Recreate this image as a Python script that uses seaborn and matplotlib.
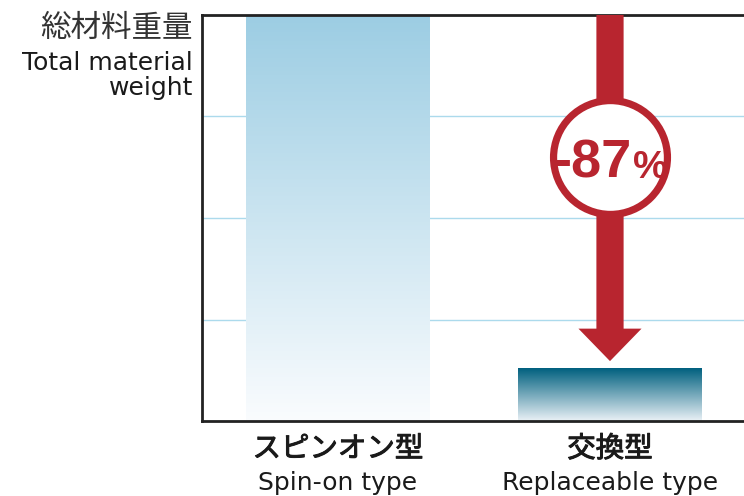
import numpy as np
import pandas as pd
import matplotlib
matplotlib.use("Agg")
import matplotlib.pyplot as plt
import matplotlib.patheffects as pe
import seaborn as sns
from matplotlib.colors import LinearSegmentedColormap
from matplotlib.patches import FancyArrow

# data
categories = ['スピンオン型', '交換型']
categories_en = ['Spin-on type', 'Replaceable type']
weights = [4.0, 0.52]
ylabel_jp = '総材料重量'
ylabel_en = ['Total material', 'weight']

# colours (top -> bottom of each bar)
bar_top = ['#9ccde3', '#00607f']
bar_bottom = ['#fafcfe', '#eaf1f6']
red = '#b8252f'

sns.set_theme(style='white')
plt.rcParams['font.family'] = ['DejaVu Sans', 'Noto Sans CJK JP']

fig = plt.figure(figsize=(7.44, 4.96), dpi=100)
ax = fig.add_axes([202/744, 75/496, 544/744, 406/496])

df = pd.DataFrame({'cat': categories, 'w': weights})
sns.barplot(data=df, x='cat', y='w', ax=ax, width=0.673, color='white', edgecolor='none')

ax.set_xlim(-0.5, 1.5)
ax.set_ylim(0, 4)
ax.set_yticks([0, 1, 2, 3, 4])
ax.yaxis.grid(True, color='#acdaec', linewidth=1.0)
ax.set_axisbelow(True)
ax.set_yticklabels([])
ax.set_xticklabels([])
ax.tick_params(left=False, bottom=False)
ax.set_xlabel('')
ax.set_ylabel('')
for s in ['left', 'bottom', 'top']:
    ax.spines[s].set_color('#222222')
    ax.spines[s].set_linewidth(2.0)
ax.spines['right'].set_visible(False)

# gradient fill on each bar
grad = np.linspace(1, 0, 256).reshape(-1, 1)
for i, p in enumerate(ax.patches):
    x0, y0 = p.get_x(), p.get_y()
    w, h = p.get_width(), p.get_height()
    cmap = LinearSegmentedColormap.from_list('g%d' % i, [bar_bottom[i], bar_top[i]])
    im = ax.imshow(grad, extent=[x0, x0 + w, y0, y0 + h], aspect='auto',
                   cmap=cmap, vmin=0, vmax=1, zorder=2, interpolation='bicubic')
    im.set_clip_path(p)
ax.set_xlim(-0.5, 1.5)
ax.set_ylim(0, 4)

# reduction arrow
tip = weights[1] + 0.07
arrow = FancyArrow(1, weights[0], 0, -(weights[0] - tip), width=0.1,
                   head_width=0.232, head_length=0.32, length_includes_head=True,
                   color=red, linewidth=0, zorder=4)
ax.add_patch(arrow)

# circle badge
ax.plot([1], [2.6], marker='o', markersize=82, markerfacecolor='white',
        markeredgecolor=red, markeredgewidth=5.2, zorder=5, clip_on=False)
pct = round((weights[1] - weights[0]) / weights[0] * 100)
ax.text(1.083, 2.395, '%d' % pct, ha='right', va='baseline', color=red,
        fontsize=39, fontweight='bold', family='Liberation Sans', zorder=6)
ax.text(1.083, 2.395, '%', ha='left', va='baseline', color=red,
        fontsize=28, fontweight='bold', family='Liberation Sans', zorder=6)

# category labels
trans = ax.get_xaxis_transform()
thick = [pe.withStroke(linewidth=0.7, foreground='#1a1a1a')]
for i, (jp, en) in enumerate(zip(categories, categories_en)):
    ax.text(i, -28/406, jp, ha='center', va='center', fontsize=20.5,
            family='Noto Sans CJK JP', color='#1a1a1a',
            transform=trans, path_effects=thick)
    ax.text(i, -69/406, en, ha='center', va='baseline', fontsize=18,
            color='#1a1a1a', transform=trans)

# y label
fig.text(193/744, 1 - 28/496, ylabel_jp, ha='right', va='center', fontsize=22,
         family='Noto Sans CJK JP', color='#333333')
fig.text(193/744, 1 - 70/496, ylabel_en[0], ha='right', va='baseline', fontsize=18, color='#1a1a1a')
fig.text(193/744, 1 - 95/496, ylabel_en[1], ha='right', va='baseline', fontsize=18, color='#1a1a1a')

fig.savefig('out.png', dpi=100)
